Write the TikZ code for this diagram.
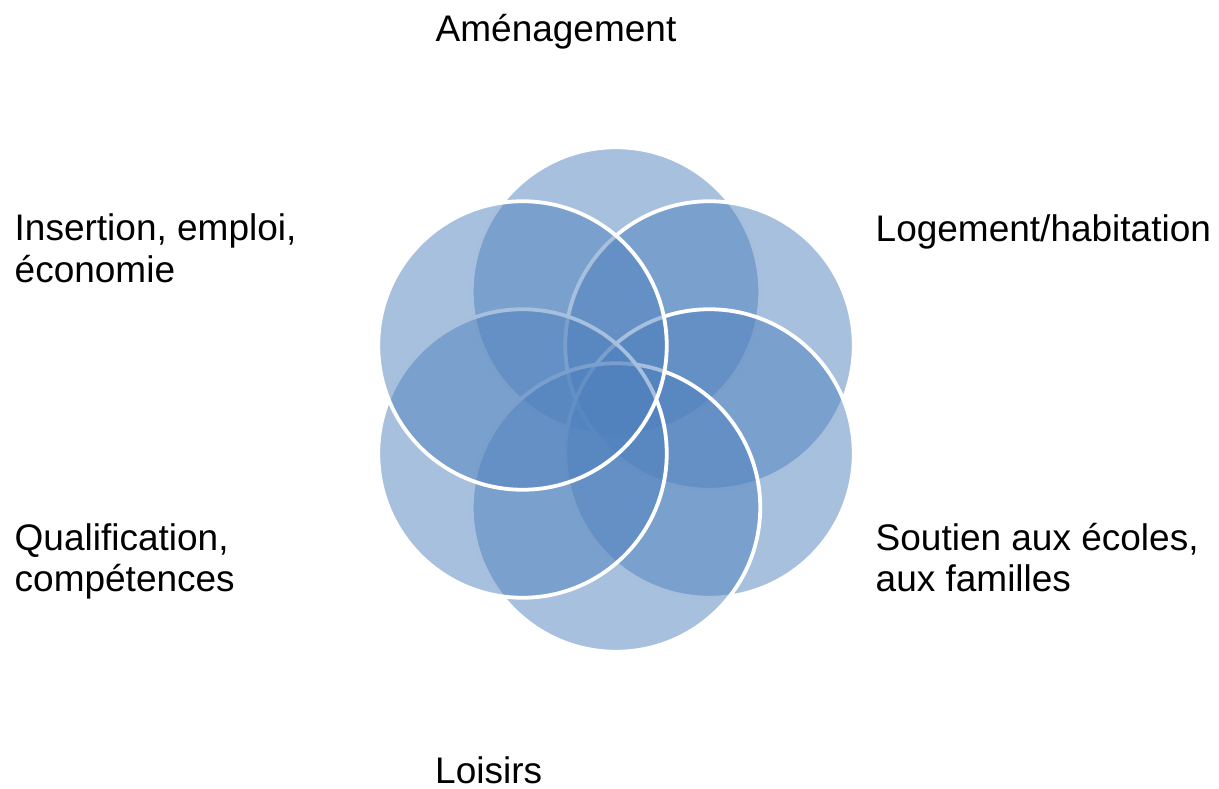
\documentclass[tikz,border=0pt]{standalone}
\usepackage{fontspec}
\setmainfont{Liberation Sans}
\definecolor{petal}{HTML}{4F81BD}
\begin{document}
\begin{tikzpicture}[x=1pt,y=-1pt,
  petalc/.style={circle, inner sep=0pt, minimum size=288.5pt, fill=petal, fill opacity=0.5, draw=white, draw opacity=1, line width=3.8pt},
  lbl/.style={anchor=base west, inner sep=0pt, font=\fontsize{37pt}{41.7pt}\selectfont, text=black}]
\useasboundingbox (0,0) rectangle (1219,789);
% circles in drawing order (clockwise from top, top-left last)
\node[petalc] (ctop) at (616,291.5) {};
\node[petalc] (ctr)  at (709.5,345.5) {};
\node[petalc] (cbr)  at (709.5,453.5) {};
\node[petalc] (cbot) at (616,507.5) {};
\node[petalc] (cbl)  at (522.5,453.5) {};
\node[petalc] (ctl)  at (522.5,345.5) {};
% labels
\node[lbl] (tamen) at (435.5,41.7) {Aménagement};
\node[lbl] (tins)  at (14.5,240.5) {\parbox[t]{400pt}{\raggedright Insertion, emploi,\\économie}};
\node[lbl] (tlog)  at (875.5,241.5) {Logement/habitation};
\node[lbl] (tqual) at (14.5,550) {\parbox[t]{400pt}{\raggedright Qualification,\\compétences}};
\node[lbl] (tsout) at (875.5,550) {\parbox[t]{340pt}{\raggedright Soutien aux écoles,\\aux familles}};
\node[lbl] (tlois) at (435,783.3) {Loisirs};
\end{tikzpicture}
\end{document}
